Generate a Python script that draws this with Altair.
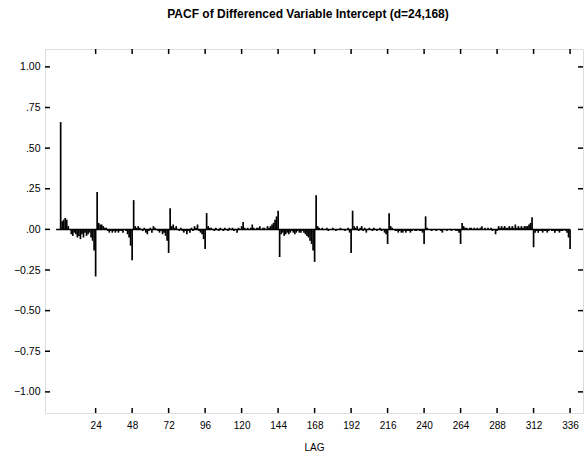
import altair as alt
import pandas as pd

TITLE = "PACF of Differenced Variable Intercept (d=24,168)"
X_TITLE = "LAG"

pacf_rows = [
    [0.66, 0.05, 0.06, 0.07, 0.06, 0.02, 0.00, -0.03, -0.04, -0.02, -0.03, -0.05,
     -0.04, -0.06, -0.03, -0.05, -0.02, -0.04, -0.03, -0.02, -0.05, -0.07, -0.13, -0.29],
    [0.23, 0.04, 0.03, 0.03, 0.02, 0.01, 0.01, -0.01, -0.02, -0.01, -0.02, -0.01,
     -0.02, -0.01, -0.02, -0.01, -0.01, -0.02, 0.00, -0.01, -0.03, -0.05, -0.10, -0.19],
    [0.18, 0.02, 0.01, 0.02, 0.01, 0.00, -0.01, 0.01, -0.02, -0.03, -0.01, 0.01,
     -0.02, 0.02, 0.01, 0.00, -0.01, -0.02, -0.01, -0.03, -0.02, -0.04, -0.07, -0.145],
    [0.13, 0.02, 0.03, 0.01, 0.02, 0.00, -0.01, 0.01, -0.01, -0.02, -0.01, -0.03,
     -0.01, -0.02, 0.01, -0.01, 0.02, 0.01, 0.03, -0.01, -0.02, -0.03, -0.06, -0.12],
    [0.10, 0.02, 0.01, 0.01, 0.00, -0.01, 0.01, 0.00, -0.01, 0.01, 0.00, -0.01,
     0.01, 0.00, -0.01, 0.01, 0.00, 0.01, -0.01, 0.00, -0.02, 0.01, 0.00, 0.02],
    [0.045, 0.01, 0.00, 0.01, 0.00, 0.01, 0.03, 0.01, 0.00, 0.01, 0.01, 0.02,
     0.00, 0.01, 0.01, 0.00, 0.02, 0.01, 0.02, 0.03, 0.04, 0.06, 0.08, 0.115],
    [-0.17, -0.03, -0.02, -0.04, -0.03, -0.02, -0.03, -0.02, -0.01, -0.02, -0.03, -0.02,
     -0.01, -0.02, -0.02, -0.01, -0.02, -0.03, -0.04, -0.05, -0.07, -0.09, -0.13, -0.20],
    [0.21, 0.02, 0.01, 0.00, 0.01, 0.00, 0.00, 0.01, -0.01, 0.00, 0.00, 0.01,
     0.00, -0.01, 0.00, 0.00, 0.01, 0.00, 0.00, -0.01, 0.00, 0.01, -0.02, -0.145],
    [0.115, 0.02, 0.01, 0.02, -0.01, 0.01, 0.02, -0.01, 0.01, -0.02, 0.00, 0.01,
     0.00, -0.01, 0.01, 0.00, -0.01, 0.00, 0.01, -0.01, 0.00, -0.02, -0.03, -0.09],
    [0.10, 0.02, 0.01, 0.00, -0.01, -0.01, -0.02, -0.01, -0.02, -0.02, -0.01, -0.02,
     -0.01, -0.01, -0.02, -0.01, 0.00, -0.01, -0.01, 0.00, -0.01, -0.01, -0.02, -0.09],
    [0.08, 0.01, 0.00, 0.00, -0.01, 0.00, 0.00, -0.01, 0.00, 0.00, -0.01, -0.02,
     0.00, 0.00, -0.01, 0.00, 0.00, -0.01, 0.00, 0.00, -0.01, -0.01, -0.02, -0.09],
    [0.04, 0.02, 0.01, 0.01, 0.00, 0.01, 0.01, 0.00, 0.01, 0.00, 0.01, 0.00,
     0.01, 0.02, 0.00, 0.01, 0.00, 0.01, 0.00, 0.01, -0.01, 0.00, -0.03, -0.01],
    [0.02, 0.01, 0.02, 0.01, 0.02, 0.01, 0.01, 0.02, 0.01, 0.02, 0.01, 0.03,
     0.01, 0.02, 0.01, 0.02, 0.01, 0.02, 0.02, 0.02, 0.03, 0.04, 0.075, -0.11],
    [-0.02, -0.01, -0.02, -0.01, -0.01, -0.02, -0.01, -0.01, -0.02, -0.01, 0.00, -0.01,
     -0.01, -0.02, -0.01, -0.01, -0.02, -0.01, -0.01, 0.00, -0.01, -0.02, -0.05, -0.12],
]

x_ticks = [24, 48, 72, 96, 120, 144, 168, 192, 216, 240, 264, 288, 312, 336]
y_ticks = [-1.0, -0.75, -0.5, -0.25, 0.0, 0.25, 0.5, 0.75, 1.0]

values = [v for row in pacf_rows for v in row]
lags = list(range(1, len(values) + 1))
df = pd.DataFrame({"lag": lags, "pacf": values, "zero": [0.0] * len(values)})

W, H = 538, 364
FONT = "Liberation Sans"

xs = alt.Scale(domain=[-9.3, 344.5], nice=False, zero=False)
ys = alt.Scale(domain=[-1.13, 1.11], nice=False, zero=False)

x_axis = alt.Axis(values=x_ticks, title=X_TITLE, ticks=False, domain=False,
                  grid=False, labelFontSize=10, labelFont=FONT, labelColor="black",
                  labelPadding=7, titleFont=FONT, titleFontSize=10,
                  titleFontWeight="normal", titleColor="black", titlePadding=12)
y_axis = alt.Axis(values=y_ticks, title=None, ticks=False, domain=False, grid=False,
                  labelFontSize=10.5, labelFont=FONT, labelColor="black",
                  labelPadding=5,
                  labelExpr="datum.value >= 0 && datum.value < 1 ? substring(format(datum.value, '.2f'), 1) : format(datum.value, '.2f')")

bars = alt.Chart(df).mark_rule(color="black", strokeWidth=1.7).encode(
    x=alt.X("lag:Q", scale=xs, axis=x_axis),
    y=alt.Y("zero:Q", scale=ys, axis=y_axis),
    y2="pacf:Q",
)

zero_df = pd.DataFrame({"lag": [-2.0], "b": [336.0], "zero": [0.0]})
zero_line = alt.Chart(zero_df).mark_rule(color="black", strokeWidth=1.5).encode(
    x=alt.X("lag:Q", scale=xs, axis=x_axis), x2="b:Q",
    y=alt.Y("zero:Q", scale=ys, axis=y_axis)
)

xt = pd.DataFrame({"lag": x_ticks})
yt = pd.DataFrame({"zero": y_ticks})
tick_style = dict(color="black", strokeWidth=1.5)
xb = alt.Chart(xt).mark_rule(**tick_style).encode(
    x=alt.X("lag:Q", scale=xs, axis=x_axis), y=alt.value(H), y2=alt.value(H - 5))
xtop = alt.Chart(xt).mark_rule(**tick_style).encode(
    x=alt.X("lag:Q", scale=xs, axis=x_axis), y=alt.value(0), y2=alt.value(5))
yl = alt.Chart(yt).mark_rule(**tick_style).encode(
    y=alt.Y("zero:Q", scale=ys, axis=y_axis), x=alt.value(0), x2=alt.value(5))
yr = alt.Chart(yt).mark_rule(**tick_style).encode(
    y=alt.Y("zero:Q", scale=ys, axis=y_axis), x=alt.value(W), x2=alt.value(W - 5))

chart = alt.layer(bars, zero_line, xb, xtop, yl, yr).properties(
    width=W, height=H,
    title=alt.TitleParams(TITLE, font=FONT, fontSize=12, fontWeight="bold",
                          color="black", anchor="middle", offset=27, dx=-6),
    autosize=alt.AutoSizeParams(type="none"),
    padding={"left": 45, "top": 49, "right": 4, "bottom": 51},
).configure_view(stroke="black", strokeWidth=1.8).configure(background="white")

chart.save("out.html", embed_options={"renderer": "svg", "actions": False})
